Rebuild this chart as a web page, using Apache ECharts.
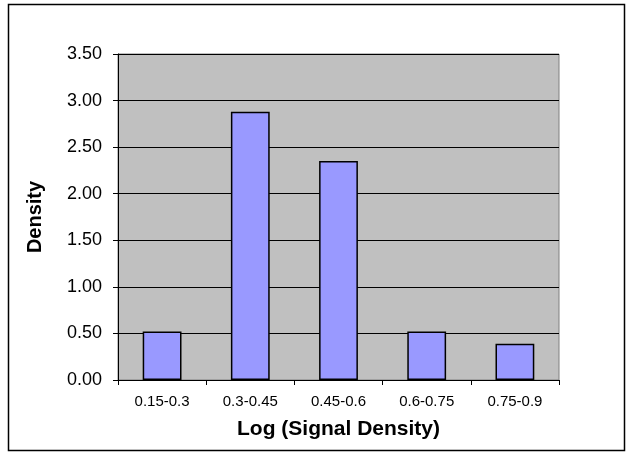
<!DOCTYPE html>
<html>
<head>
<meta charset="utf-8">
<script src="https://cdn.jsdelivr.net/npm/echarts@6/dist/echarts.min.js"></script>
<style>
  html, body { margin: 0; padding: 0; background: #ffffff; }
  #chart { width: 626px; height: 453px; }
</style>
</head>
<body>
<div id="chart"></div>
<script>
// Histogram of log signal density, one bar per bin
const binLabels = ['0.15-0.3', '0.3-0.45', '0.45-0.6', '0.6-0.75', '0.75-0.9'];
const densityValues = [0.52, 2.88, 2.35, 0.52, 0.39];
const yTicks = [0, 0.5, 1, 1.5, 2, 2.5, 3, 3.5];

const FONT = '"Liberation Sans", Arial, sans-serif';

const chart = echarts.init(document.getElementById('chart'), null, { renderer: 'canvas' });

chart.setOption({
  backgroundColor: '#ffffff',
  animation: false,
  textStyle: { fontFamily: FONT, color: '#000' },
  graphic: [{
    type: 'rect',
    shape: { x: 8.5, y: 4.5, width: 616, height: 446 },
    style: { fill: 'none', stroke: '#000', lineWidth: 1.5 },
    silent: true,
    z: 100
  }],
  grid: {
    left: 118, top: 54, right: 67, bottom: 73,
    show: true,
    backgroundColor: '#c0c0c0',
    borderColor: '#808080',
    borderWidth: 1
  },
  xAxis: {
    type: 'category',
    data: binLabels,
    name: 'Log (Signal Density)',
    nameLocation: 'middle',
    nameGap: 39,
    nameTextStyle: { fontFamily: FONT, fontSize: 21, fontWeight: 'bold', color: '#000' },
    axisLine: { lineStyle: { color: '#000', width: 1 } },
    axisTick: { show: true, length: 5, alignWithLabel: false, lineStyle: { color: '#000' } },
    axisLabel: { fontFamily: FONT, fontSize: 15, color: '#000', margin: 14, interval: 0 },
    splitLine: { show: false }
  },
  yAxis: {
    type: 'value',
    min: yTicks[0],
    max: yTicks[yTicks.length - 1],
    interval: yTicks[1] - yTicks[0],
    name: 'Density',
    nameLocation: 'middle',
    nameGap: 73,
    nameRotate: 90,
    nameTextStyle: { fontFamily: FONT, fontSize: 20, fontWeight: 'bold', color: '#000' },
    axisLine: { show: true, lineStyle: { color: '#000', width: 1 } },
    axisTick: { show: true, length: 5, lineStyle: { color: '#000' } },
    axisLabel: {
      fontFamily: FONT, fontSize: 18, color: '#000', margin: 16,
      formatter: v => v.toFixed(2)
    },
    splitLine: { show: true, lineStyle: { color: '#000', width: 1 } }
  },
  series: [{
    type: 'bar',
    data: densityValues,
    barWidth: '44%',
    itemStyle: { color: '#9999ff', borderColor: '#000', borderWidth: 1.5 }
  }]
});
</script>
</body>
</html>
